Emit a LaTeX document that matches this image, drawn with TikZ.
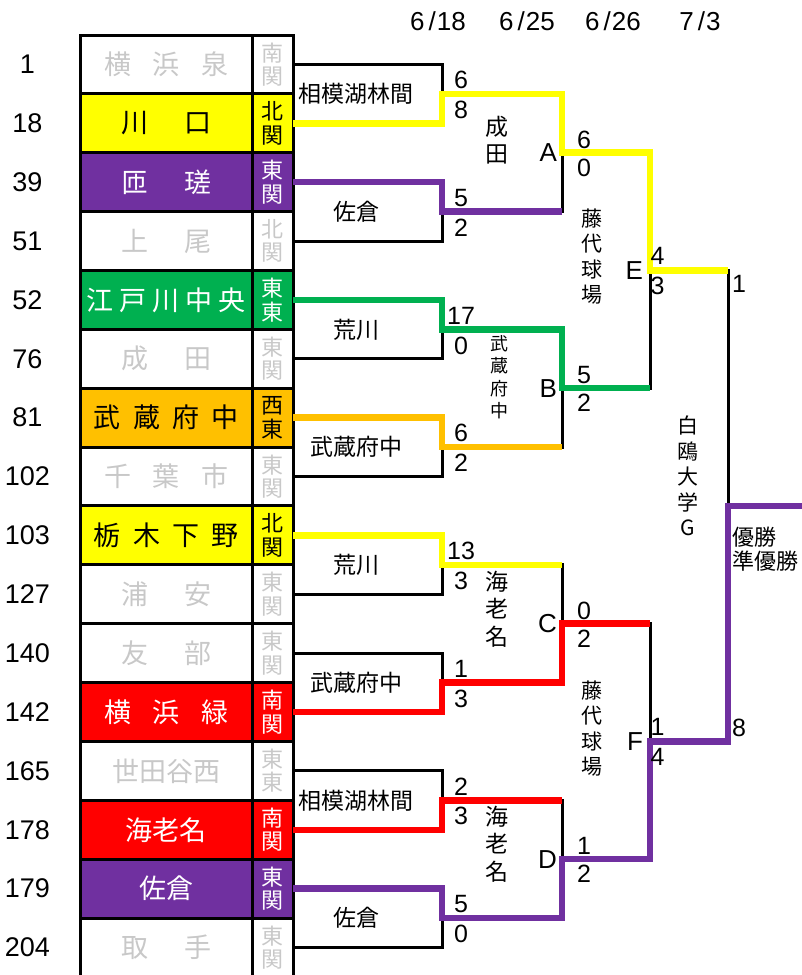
\documentclass[tikz,border=0pt]{standalone}
\usepackage{fontspec}
\setmainfont{Liberation Sans}
\newfontfamily\jpfont{Noto Sans CJK JP}
\definecolor{yel}{RGB}{255,255,0}
\definecolor{pur}{RGB}{112,48,160}
\definecolor{grn}{RGB}{0,176,80}
\definecolor{org}{RGB}{255,192,0}
\definecolor{rd}{RGB}{255,0,0}
\definecolor{pale}{RGB}{200,200,200}
\newcommand\spaced[2]{\hbox to #1pt{#2}}
\tikzset{
  every node/.style={inner sep=0pt, outer sep=0pt},
  cell/.style={draw, line width=3pt, minimum height=58.87pt, text=pale},
  teambox/.style={cell, minimum width=172pt, font=\jpfont\fontsize{27}{27}\selectfont},
  areabox/.style={cell, minimum width=41pt, align=center, font=\jpfont\fontsize{22}{23.5}\selectfont},
  seed/.style={font=\fontsize{27}{27}\selectfont},
  day/.style={font=\fontsize{26}{26}\selectfont},
  score/.style={font=\fontsize{25}{25}\selectfont},
  gamebox/.style={anchor=east, font=\fontsize{26}{26}\selectfont},
  site/.style={font=\jpfont\fontsize{23}{23}\selectfont},
  vsite/.style={align=center, font=\jpfont\fontsize{23}{27.5}\selectfont},
  bline/.style={line width=3pt},
  win/.style={line width=6.5pt}
}
\begin{document}
\begin{tikzpicture}[x=1pt,y=-1pt]
  \useasboundingbox (0,0) rectangle (801,975);
  \node[day] (d1) at (438,21){6\kern4pt/\kern1pt18};
  \node[day] (d2) at (527,21){6\kern4pt/\kern1pt25};
  \node[day] (d3) at (613,21){6\kern4pt/\kern1pt26};
  \node[day] (d4) at (700,21){7\kern4pt/\kern1pt3};
  \node[seed] (n1) at (27.5,64.44){1};
  \node[seed] (n2) at (27.5,123.31){18};
  \node[seed] (n3) at (27.5,182.18){39};
  \node[seed] (n4) at (27.5,241.05){51};
  \node[seed] (n5) at (27.5,299.92){52};
  \node[seed] (n6) at (27.5,358.79){76};
  \node[seed] (n7) at (27.5,417.66){81};
  \node[seed] (n8) at (27.5,476.53){102};
  \node[seed] (n9) at (27.5,535.40){103};
  \node[seed] (n10) at (27.5,594.27){127};
  \node[seed] (n11) at (27.5,653.14){140};
  \node[seed] (n12) at (27.5,712.01){142};
  \node[seed] (n13) at (27.5,770.88){165};
  \node[seed] (n14) at (27.5,829.75){178};
  \node[seed] (n15) at (27.5,888.62){179};
  \node[seed] (n16) at (27.5,947.49){204};
  \node[teambox] (t1) at (166.4,64.44){\spaced{124}{横\hfil 浜\hfil 泉}};
  \node[areabox] (k1) at (272.8,64.44){南\\関};
  \node[teambox,fill=yel,text=black] (t2) at (166.4,123.31){\spaced{90}{川\hfil 口}};
  \node[areabox,fill=yel,text=black] (k2) at (272.8,123.31){北\\関};
  \node[teambox,fill=pur,text=white] (t3) at (166.4,182.18){\spaced{90}{匝\hfil 瑳}};
  \node[areabox,fill=pur,text=white] (k3) at (272.8,182.18){東\\関};
  \node[teambox] (t4) at (166.4,241.05){\spaced{90}{上\hfil 尾}};
  \node[areabox] (k4) at (272.8,241.05){北\\関};
  \node[teambox,fill=grn,text=white] (t5) at (166.4,299.92){\spaced{159}{江\hfil 戸\hfil 川\hfil 中\hfil 央}};
  \node[areabox,fill=grn,text=white] (k5) at (272.8,299.92){東\\東};
  \node[teambox] (t6) at (166.4,358.79){\spaced{90}{成\hfil 田}};
  \node[areabox] (k6) at (272.8,358.79){東\\関};
  \node[teambox,fill=org,text=black] (t7) at (166.4,417.66){\spaced{145}{武\hfil 蔵\hfil 府\hfil 中}};
  \node[areabox,fill=org,text=black] (k7) at (272.8,417.66){西\\東};
  \node[teambox] (t8) at (166.4,476.53){\spaced{124}{千\hfil 葉\hfil 市}};
  \node[areabox] (k8) at (272.8,476.53){東\\関};
  \node[teambox,fill=yel,text=black] (t9) at (166.4,535.40){\spaced{145}{栃\hfil 木\hfil 下\hfil 野}};
  \node[areabox,fill=yel,text=black] (k9) at (272.8,535.40){北\\関};
  \node[teambox] (t10) at (166.4,594.27){\spaced{90}{浦\hfil 安}};
  \node[areabox] (k10) at (272.8,594.27){東\\関};
  \node[teambox] (t11) at (166.4,653.14){\spaced{90}{友\hfil 部}};
  \node[areabox] (k11) at (272.8,653.14){東\\関};
  \node[teambox,fill=rd,text=white] (t12) at (166.4,712.01){\spaced{124}{横\hfil 浜\hfil 緑}};
  \node[areabox,fill=rd,text=white] (k12) at (272.8,712.01){南\\関};
  \node[teambox] (t13) at (166.4,770.88){世田谷西};
  \node[areabox] (k13) at (272.8,770.88){東\\東};
  \node[teambox,fill=rd,text=white] (t14) at (166.4,829.75){海老名};
  \node[areabox,fill=rd,text=white] (k14) at (272.8,829.75){南\\関};
  \node[teambox,fill=pur,text=white] (t15) at (166.4,888.62){佐倉};
  \node[areabox,fill=pur,text=white] (k15) at (272.8,888.62){東\\関};
  \node[teambox] (t16) at (166.4,947.49){\spaced{90}{取\hfil 手}};
  \node[areabox] (k16) at (272.8,947.49){東\\関};
  \coordinate (m1) at (442,93.87);
  \coordinate (m2) at (442,211.61);
  \coordinate (m3) at (442,329.35);
  \coordinate (m4) at (442,447.09);
  \coordinate (m5) at (442,564.83);
  \coordinate (m6) at (442,682.57);
  \coordinate (m7) at (442,800.31);
  \coordinate (m8) at (442,918.05);
  \coordinate (qa) at (562,152.74);
  \coordinate (qb) at (562,388.22);
  \coordinate (qc) at (562,623.70);
  \coordinate (qd) at (562,859.18);
  \coordinate (qe) at (650,270.48);
  \coordinate (qf) at (650,741.44);
  \coordinate (qg) at (728,505.96);
  \coordinate (top) at (806,505.96);
  \draw[bline] (k1.east)-|(m1)(k2.east)-|(m1)(k3.east)-|(m2)(k4.east)-|(m2)(k5.east)-|(m3)(k6.east)-|(m3)(k7.east)-|(m4)(k8.east)-|(m4)(k9.east)-|(m5)(k10.east)-|(m5)(k11.east)-|(m6)(k12.east)-|(m6)(k13.east)-|(m7)(k14.east)-|(m7)(k15.east)-|(m8)(k16.east)-|(m8);
  \draw[bline] (m1)-|(qa)(m2)-|(qa)(m3)-|(qb)(m4)-|(qb)(m5)-|(qc)(m6)-|(qc)(m7)-|(qd)(m8)-|(qd)(qa)-|(qe)(qb)-|(qe)(qc)-|(qf)(qd)-|(qf)(qe)-|(qg)(qf)-|(qg);
  \draw[win,yel] (k2.east)-|(m1)-|(qa)-|(qe)--(qe-|qg);
  \draw[win,pur] (k3.east)-|(m2)--(m2-|qa);
  \draw[win,grn] (k5.east)-|(m3)-|(qb)--(qb-|qe);
  \draw[win,org] (k7.east)-|(m4)--(m4-|qb);
  \draw[win,yel] (k9.east)-|(m5)--(m5-|qc);
  \draw[win,rd] (k12.east)-|(m6)-|(qc)--(qc-|qf);
  \draw[win,rd] (k14.east)-|(m7)--(m7-|qd);
  \draw[win,pur] (k15.east)-|(m8)-|(qd)-|(qf)-|(qg)--(top);
  \node[site] (v1) at (356,93.87){相模湖林間};
  \node[site] (v2) at (356,211.61){佐倉};
  \node[site] (v3) at (356,329.35){荒川};
  \node[site] (v4) at (356,447.09){武蔵府中};
  \node[site] (v5) at (356,564.83){荒川};
  \node[site] (v6) at (356,682.57){武蔵府中};
  \node[site] (v7) at (356,800.31){相模湖林間};
  \node[site] (v8) at (356,918.05){佐倉};
  \node[vsite] (va) at (497,140){成\\田};
  \node[vsite,font=\jpfont\fontsize{18}{22.5}\selectfont] (vb) at (499,377){武\\蔵\\府\\中};
  \node[vsite] (vc) at (497,609){海\\老\\名};
  \node[vsite] (vd) at (497,844){海\\老\\名};
  \node[vsite,font=\jpfont\fontsize{21}{25.5}\selectfont] (ve) at (592,256.5){藤\\代\\球\\場};
  \node[vsite,font=\jpfont\fontsize{21}{25.5}\selectfont] (vf) at (592,728.5){藤\\代\\球\\場};
  \node[vsite,font=\jpfont\fontsize{21}{25.5}\selectfont] (vg) at (688,476){白\\鴎\\大\\学\\G};
  \node[anchor=west,align=left,font=\jpfont\fontsize{22}{24}\selectfont] (rank) at (732,549){優勝\\準優勝};
  \node[gamebox] (ga) at (557,152.74){A};
  \node[gamebox] (gb) at (557,388.22){B};
  \node[gamebox] (gc) at (557,623.70){C};
  \node[gamebox] (gd) at (557,859.18){D};
  \node[gamebox] (ge) at (643,270.48){E};
  \node[gamebox] (gf) at (643,741.44){F};
  \node[score] (s1) at (461,79.9){6};
  \node[score] (s2) at (461,109.9){8};
  \node[score] (s3) at (461,197.6){5};
  \node[score] (s4) at (461,227.6){2};
  \node[score] (s5) at (461,315.4){17};
  \node[score] (s6) at (461,345.4){0};
  \node[score] (s7) at (461,433.1){6};
  \node[score] (s8) at (461,463.1){2};
  \node[score] (s9) at (461,550.8){13};
  \node[score] (s10) at (461,580.8){3};
  \node[score] (s11) at (461,668.6){1};
  \node[score] (s12) at (461,698.6){3};
  \node[score] (s13) at (461,786.3){2};
  \node[score] (s14) at (461,816.3){3};
  \node[score] (s15) at (461,904.1){5};
  \node[score] (s16) at (461,934.1){0};
  \node[score] (sa1) at (584,139.7){6};
  \node[score] (sa2) at (584,167.7){0};
  \node[score] (sb1) at (584,375.2){5};
  \node[score] (sb2) at (584,403.2){2};
  \node[score] (sc1) at (584,610.7){0};
  \node[score] (sc2) at (584,638.7){2};
  \node[score] (sd1) at (584,846.2){1};
  \node[score] (sd2) at (584,874.2){2};
  \node[score] (se1) at (657.5,255.5){4};
  \node[score] (se2) at (657.5,285.5){3};
  \node[score] (sf1) at (657.5,726.4){1};
  \node[score] (sf2) at (657.5,756.4){4};
  \node[score] (sg1) at (739,283.5){1};
  \node[score] (sg2) at (739,727.4){8};
\end{tikzpicture}
\end{document}
